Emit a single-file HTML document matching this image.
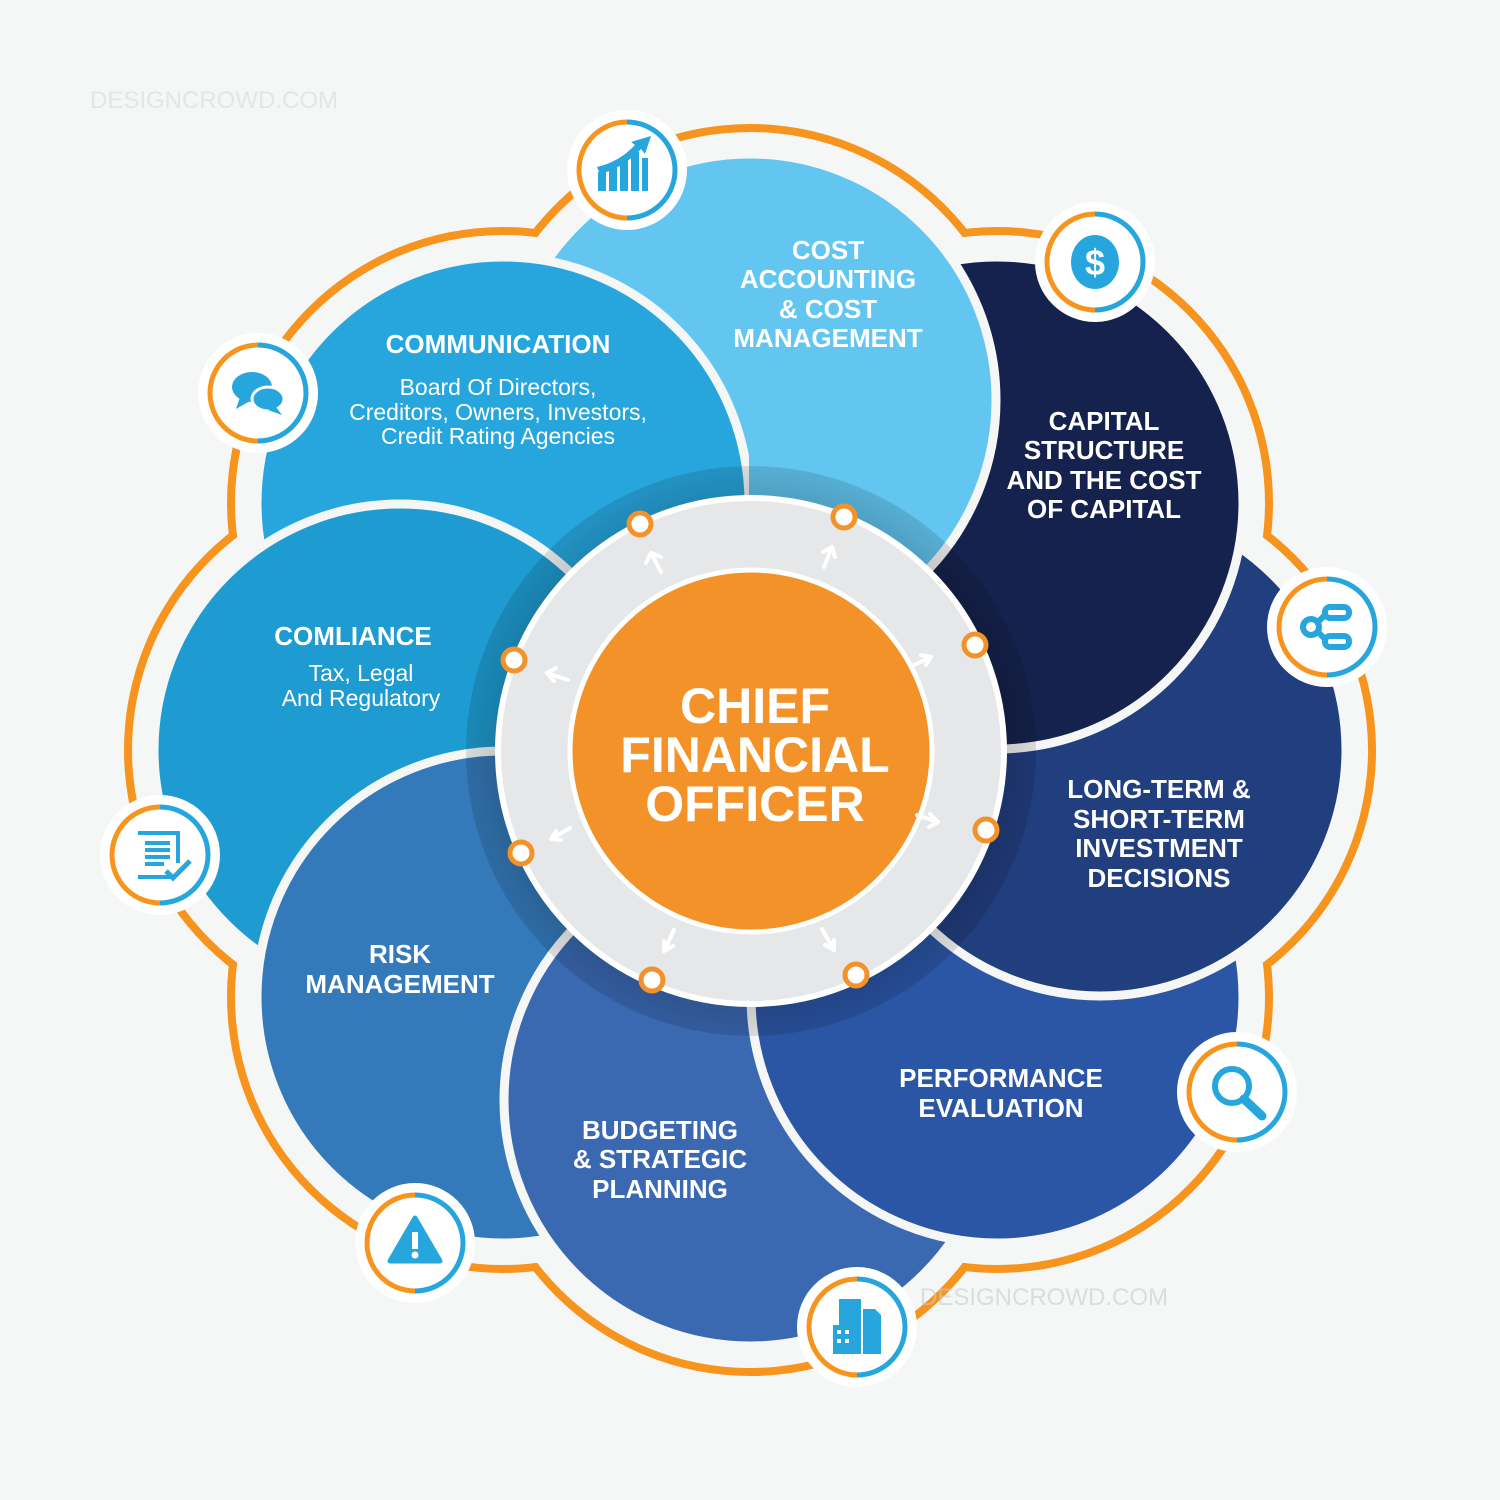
<!DOCTYPE html>
<html><head><meta charset="utf-8"><style>
html,body{margin:0;padding:0;background:#f5f6f6}
svg{display:block}
text{font-family:"Liberation Sans",sans-serif;fill:#fff}
</style></head><body>
<svg width="1500" height="1500" viewBox="0 0 1500 1500" xmlns="http://www.w3.org/2000/svg">
<defs>
<clipPath id="rh"><rect x="749" y="0" width="800" height="800"/></clipPath>
<radialGradient id="sh" cx="0.5" cy="0.5" r="0.5">
<stop offset="0.8" stop-color="#000" stop-opacity="0.25"/>
<stop offset="1" stop-color="#000" stop-opacity="0.12"/>
</radialGradient>
</defs>
<rect width="1500" height="1500" fill="#f5f6f6"/>
<text x="90" y="108" font-size="24" style="fill:#e3e5e6">DESIGNCROWD.COM</text>
<!-- orange outline -->
<g fill="#f7941d">
<circle cx="750" cy="400" r="276"/><circle cx="997" cy="503" r="276"/><circle cx="1100" cy="750" r="276"/><circle cx="997" cy="997" r="276"/>
<circle cx="750" cy="1100" r="276"/><circle cx="503" cy="997" r="276"/><circle cx="400" cy="750" r="276"/><circle cx="503" cy="503" r="276"/>
</g>
<g fill="#f5f6f6">
<circle cx="750" cy="400" r="268"/><circle cx="997" cy="503" r="268"/><circle cx="1100" cy="750" r="268"/><circle cx="997" cy="997" r="268"/>
<circle cx="750" cy="1100" r="268"/><circle cx="503" cy="997" r="268"/><circle cx="400" cy="750" r="268"/><circle cx="503" cy="503" r="268"/>
</g>
<g stroke="#f5f6f6" stroke-width="9">
<circle cx="750" cy="400" r="246" fill="#62c6f0"/>
<circle cx="503" cy="503" r="246" fill="#27a6de"/>
<circle cx="400" cy="750" r="246" fill="#1e9bd0"/>
<circle cx="503" cy="997" r="246" fill="#3479b9"/>
<circle cx="750" cy="1100" r="246" fill="#3a68b1"/>
<circle cx="997" cy="997" r="246" fill="#2b55a5"/>
<circle cx="1100" cy="750" r="246" fill="#213e7f"/>
<circle cx="997" cy="503" r="246" fill="#15224d"/>
<circle cx="750" cy="400" r="246" fill="#62c6f0" clip-path="url(#rh)"/>
</g>
<!-- center -->
<circle cx="751" cy="751" r="285" fill="url(#sh)"/>
<circle cx="751" cy="751" r="253" fill="#e6e7e8" stroke="#fff" stroke-width="6"/>
<circle cx="751" cy="751" r="181" fill="#f4922a" stroke="#fff" stroke-width="5"/>
<g fill="#fff" stroke="#f4922a" stroke-width="5">
<circle cx="640" cy="524" r="11"/><circle cx="844" cy="517" r="11"/><circle cx="975" cy="645" r="11"/><circle cx="986" cy="830" r="11"/>
<circle cx="856" cy="975" r="11"/><circle cx="652" cy="980" r="11"/><circle cx="521" cy="853" r="11"/><circle cx="514" cy="660" r="11"/>
</g>
<g stroke="#fff" stroke-width="4" fill="none" stroke-linecap="round">
<path d="M661 572 L651 553 M651 553 L646 563 M651 553 L661 557"/>
<path d="M824 567 L832 547 M832 547 L823 552 M832 547 L835 557"/>
<path d="M912 666 L931 657 M931 657 L921 655 M931 657 L926 665"/>
<path d="M917 815 L938 822 M938 822 L930 814 M938 822 L929 827"/>
<path d="M822 929 L834 950 M834 950 L834 940 M834 950 L825 945"/>
<path d="M674 930 L664 951 M664 951 L673 946 M664 951 L664 941"/>
<path d="M570 828 L551 839 M551 839 L561 840 M551 839 L556 831"/>
<path d="M568 680 L547 673 M547 673 L554 681 M547 673 L556 668"/>
</g>
<g font-weight="bold" text-anchor="middle" font-size="50">
<text x="755" y="723">CHIEF</text><text x="755" y="772">FINANCIAL</text><text x="755" y="821">OFFICER</text>
</g>
<!-- labels -->
<g font-weight="bold" text-anchor="middle" font-size="26">
<text x="828" y="259">COST</text><text x="828" y="288">ACCOUNTING</text><text x="828" y="318">&amp; COST</text><text x="828" y="347">MANAGEMENT</text>
<text x="1104" y="430">CAPITAL</text><text x="1104" y="459">STRUCTURE</text><text x="1104" y="489">AND THE COST</text><text x="1104" y="518">OF CAPITAL</text>
<text x="1159" y="798">LONG-TERM &amp;</text><text x="1159" y="828">SHORT-TERM</text><text x="1159" y="857">INVESTMENT</text><text x="1159" y="887">DECISIONS</text>
<text x="1001" y="1087">PERFORMANCE</text><text x="1001" y="1117">EVALUATION</text>
<text x="660" y="1139">BUDGETING</text><text x="660" y="1168">&amp; STRATEGIC</text><text x="660" y="1198">PLANNING</text>
<text x="400" y="963">RISK</text><text x="400" y="993">MANAGEMENT</text>
<text x="353" y="645">COMLIANCE</text>
<text x="498" y="353">COMMUNICATION</text>
</g>
<g text-anchor="middle" font-size="23">
<text x="361" y="681">Tax, Legal</text><text x="361" y="706">And Regulatory</text>
<text x="498" y="395">Board Of Directors,</text><text x="498" y="420">Creditors, Owners, Investors,</text><text x="498" y="444">Credit Rating Agencies</text>
</g>
<text x="920" y="1305" font-size="24" style="fill:#c9ccd0;opacity:.6">DESIGNCROWD.COM</text>
<!-- icons -->
<g id="icons">
<g transform="translate(627,170)"><circle r="60" fill="#fff"/><path d="M0 -48 A48 48 0 0 0 0 48" fill="none" stroke="#f7941d" stroke-width="5"/><path d="M0 -48 A48 48 0 0 1 0 48" fill="none" stroke="#27a6de" stroke-width="5"/>
<g fill="#27a6de"><rect x="-29" y="2" width="8" height="19"/><rect x="-18" y="-4" width="8" height="25"/><rect x="-7" y="-9" width="8" height="30"/><rect x="4" y="-18" width="8" height="39"/><rect x="15" y="-12" width="6" height="33"/><path d="M-30 -3 Q-8 -8 8 -25 L4 -28 L24 -34 L18 -16 L14 -21 Q-4 -2 -27 4Z"/></g></g>
<g transform="translate(1095,262)"><circle r="60" fill="#fff"/><path d="M0 -48 A48 48 0 0 0 0 48" fill="none" stroke="#f7941d" stroke-width="5"/><path d="M0 -48 A48 48 0 0 1 0 48" fill="none" stroke="#27a6de" stroke-width="5"/>
<ellipse rx="24" ry="27" fill="#27a6de"/><text y="13" text-anchor="middle" font-size="36" font-weight="bold">$</text></g>
<g transform="translate(1327,627)"><circle r="60" fill="#fff"/><path d="M0 -48 A48 48 0 0 0 0 48" fill="none" stroke="#f7941d" stroke-width="5"/><path d="M0 -48 A48 48 0 0 1 0 48" fill="none" stroke="#27a6de" stroke-width="5"/>
<g fill="none" stroke="#27a6de" stroke-width="6"><circle cx="-16" cy="0" r="8"/><rect x="-2" y="-20" width="24" height="11" rx="5"/><rect x="-2" y="9" width="24" height="11" rx="5"/><path d="M-9 -5 L-2 -12 M-9 5 L-2 12"/></g></g>
<g transform="translate(1237,1092)"><circle r="60" fill="#fff"/><path d="M0 -48 A48 48 0 0 0 0 48" fill="none" stroke="#f7941d" stroke-width="5"/><path d="M0 -48 A48 48 0 0 1 0 48" fill="none" stroke="#27a6de" stroke-width="5"/>
<circle cx="-5" cy="-6" r="17" fill="none" stroke="#27a6de" stroke-width="6"/><path d="M7 7 L25 24" stroke="#27a6de" stroke-width="9" stroke-linecap="round"/></g>
<g transform="translate(857,1327)"><circle r="60" fill="#fff"/><path d="M0 -48 A48 48 0 0 0 0 48" fill="none" stroke="#f7941d" stroke-width="5"/><path d="M0 -48 A48 48 0 0 1 0 48" fill="none" stroke="#27a6de" stroke-width="5"/>
<g fill="#27a6de"><rect x="-18" y="-28" width="22" height="55"/><path d="M6 -18 L18 -18 L24 -12 L24 27 L6 27Z"/><rect x="-24" y="-2" width="18" height="29"/></g><g fill="#fff"><rect x="-20" y="3" width="4" height="4"/><rect x="-12" y="3" width="4" height="4"/><rect x="-20" y="12" width="4" height="4"/><rect x="-12" y="12" width="4" height="4"/></g></g>
<g transform="translate(415,1243)"><circle r="60" fill="#fff"/><path d="M0 -48 A48 48 0 0 0 0 48" fill="none" stroke="#f7941d" stroke-width="5"/><path d="M0 -48 A48 48 0 0 1 0 48" fill="none" stroke="#27a6de" stroke-width="5"/>
<path d="M0 -25 L25 18 L-25 18Z" fill="#27a6de" stroke="#27a6de" stroke-width="5" stroke-linejoin="round"/><rect x="-3" y="-11" width="6" height="17" fill="#fff"/><circle cy="12" r="3.5" fill="#fff"/></g>
<g transform="translate(160,855)"><circle r="60" fill="#fff"/><path d="M0 -48 A48 48 0 0 0 0 48" fill="none" stroke="#f7941d" stroke-width="5"/><path d="M0 -48 A48 48 0 0 1 0 48" fill="none" stroke="#27a6de" stroke-width="5"/>
<g fill="none" stroke="#27a6de" stroke-width="4"><path d="M-22 -22 L18 -22 L18 8 M10 22 L-22 22 Z"/><path d="M-15 -12 H10 M-15 -5 H10 M-15 2 H10 M-15 9 H4"/><path d="M6 16 L13 23 L30 6" stroke-width="5"/></g></g>
<g transform="translate(258,393)"><circle r="60" fill="#fff"/><path d="M0 -48 A48 48 0 0 0 0 48" fill="none" stroke="#f7941d" stroke-width="5"/><path d="M0 -48 A48 48 0 0 1 0 48" fill="none" stroke="#27a6de" stroke-width="5"/>
<ellipse cx="-6" cy="-6" rx="20" ry="15" fill="#27a6de"/><path d="M-18 4 L-22 16 L-8 8Z" fill="#27a6de"/><ellipse cx="10" cy="6" rx="16" ry="12" fill="#27a6de" stroke="#fff" stroke-width="3"/><path d="M18 14 L24 22 L10 17Z" fill="#27a6de"/></g>
</g>
</svg>
</body></html>
